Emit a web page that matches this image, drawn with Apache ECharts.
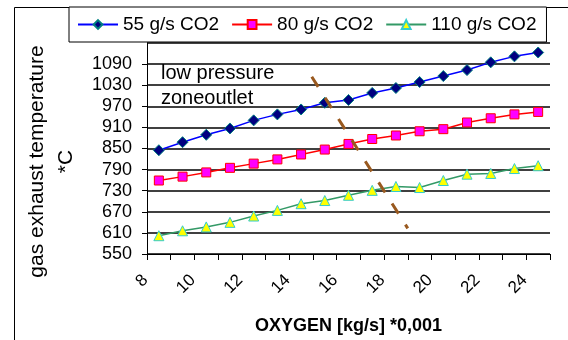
<!DOCTYPE html>
<html>
<head>
<meta charset="utf-8">
<script src="https://cdn.jsdelivr.net/npm/echarts@6/dist/echarts.min.js"></script>
<style>
html,body{margin:0;padding:0;background:#fff;}
#chart{width:568px;height:340px;}
</style>
</head>
<body>
<div id="chart"></div>
<script>
// ---- data ----
var categories = ['8','9','10','11','12','13','14','15','16','17','18','19','20','21','22','23','24'];
var s55  = [845, 868, 889, 907, 930, 947, 961, 980, 988, 1008, 1022, 1039, 1056, 1073, 1095, 1112, 1123];
var s80  = [759, 770, 782, 795, 807, 819, 833, 847, 863, 877, 887, 899, 905, 924, 936, 947, 954];
var s110 = [602, 616, 627, 640, 658, 674, 693, 702, 717, 731, 742, 739, 759, 777, 779, 793, 801];
var seriesNames = ['55 g/s CO2', '80 g/s CO2', '110 g/s CO2'];
var yTicks = [550, 610, 670, 730, 790, 850, 910, 970, 1030, 1090];
// boundary line (low pressure zone outlet), in data units
var boundaryX = [14.45, 18.5];
var boundaryY = [1054, 623];
var annotationLines = ['low pressure', 'zoneoutlet'];

var yStep = yTicks[1] - yTicks[0];
var FONT = '"Liberation Sans", Arial, sans-serif';

var chart = echarts.init(document.getElementById('chart'), null, {renderer: 'canvas'});
var option = {
  animation: false,
  backgroundColor: '#fff',
  textStyle: {fontFamily: FONT, color: '#000'},
  grid: {left: 147, right: 18, top: 43, bottom: 83, containLabel: false},
  legend: {
    data: seriesNames,
    left: 69, top: 7,
    padding: [8, 10, 8, 8],
    itemGap: 12,
    itemWidth: 40, itemHeight: 11,
    borderColor: '#000', borderWidth: 1,
    backgroundColor: '#fff',
    textStyle: {fontSize: 19, fontFamily: FONT, color: '#000'},
    z: 10
  },
  xAxis: [{
    type: 'category',
    data: categories,
    boundaryGap: true,
    axisLine: {lineStyle: {color: '#000', width: 1}},
    axisTick: {show: true, interval: 0, length: 6, lineStyle: {color: '#000'}},
    axisLabel: {interval: 1, rotate: 45, fontSize: 17, color: '#000', fontFamily: FONT, margin: 10, padding: [0, 19, 0, 0]},
    splitLine: {show: false},
    name: 'OXYGEN [kg/s] *0,001',
    nameLocation: 'middle',
    nameGap: 63,
    nameTextStyle: {fontSize: 18, fontWeight: 'bold', color: '#000', fontFamily: FONT}
  }, {
    type: 'value',
    min: 7.5, max: 24.5,
    show: false
  }],
  yAxis: [{
    type: 'value',
    min: yTicks[0],
    max: yTicks[yTicks.length - 1] + yStep,
    interval: yStep,
    axisLine: {show: true, lineStyle: {color: '#000', width: 1}},
    axisTick: {show: true, length: 5, lineStyle: {color: '#000'}},
    axisLabel: {fontSize: 18, color: '#000', fontFamily: FONT, margin: 15, showMaxLabel: false,
      formatter: function (v) { return String(v); }},
    splitLine: {show: true, lineStyle: {color: '#404040', width: 2}},
    name: 'gas exhaust temperature\n*C',
    nameLocation: 'middle',
    nameRotate: 90,
    nameGap: 66,
    nameTextStyle: {fontSize: 21, color: '#000', fontFamily: FONT, lineHeight: 29, padding: [0, 26, 0, 0]}
  }],
  series: [{
    name: seriesNames[0], type: 'line', data: s55,
    symbol: 'diamond', symbolSize: 11,
    lineStyle: {color: '#0000FF', width: 1.5},
    itemStyle: {color: '#000080', borderColor: '#008080', borderWidth: 1},
    z: 5
  }, {
    name: seriesNames[1], type: 'line', data: s80,
    symbol: 'rect', symbolSize: 9,
    lineStyle: {color: '#FF0000', width: 1.5},
    itemStyle: {color: '#FF00FF', borderColor: '#FF0000', borderWidth: 1},
    z: 5
  }, {
    name: seriesNames[2], type: 'line', data: s110,
    symbol: 'triangle', symbolSize: 10,
    lineStyle: {color: '#339966', width: 1.5},
    itemStyle: {color: '#FFFF00', borderColor: '#33CCCC', borderWidth: 1},
    z: 5
  }, {
    name: 'boundary', type: 'line',
    xAxisIndex: 1, yAxisIndex: 0,
    data: [[boundaryX[0], boundaryY[0]], [boundaryX[1], boundaryY[1]]],
    showSymbol: false, symbol: 'none',
    lineStyle: {color: '#99591F', width: 3, type: [12, 13]},
    silent: true,
    z: 6
  }],
  graphic: [{
    type: 'rect',
    shape: {x: 14.5, y: 7.5, width: 600, height: 400},
    style: {fill: 'none', stroke: '#000', lineWidth: 1},
    silent: true, z: 0
  }, {
    type: 'text', left: 161, top: 63,
    style: {text: annotationLines[0], font: '20px ' + FONT, fill: '#000'},
    z: 7
  }, {
    type: 'text', left: 161, top: 88,
    style: {text: annotationLines[1], font: '20px ' + FONT, fill: '#000'},
    z: 7
  }]
};
chart.setOption(option);
</script>
</body>
</html>
